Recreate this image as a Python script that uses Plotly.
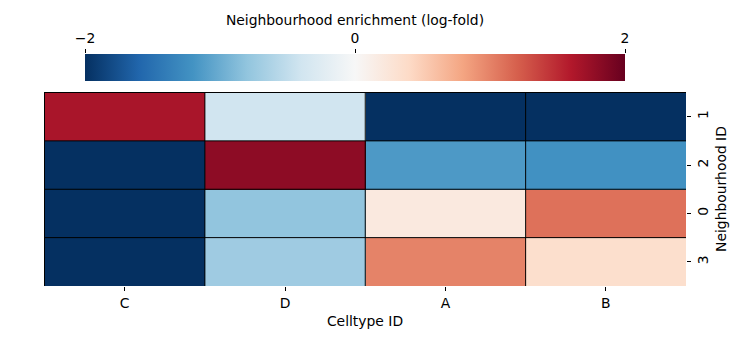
import plotly.graph_objects as go

celltypes = ["C", "D", "A", "B"]
neighbourhoods = ["1", "2", "0", "3"]
enrichment = [
    [1.65, -0.40, -2.50, -2.50],
    [-2.50, 1.80, -1.15, -1.22],
    [-2.50, -0.80, 0.20, 1.10],
    [-2.50, -0.72, 1.00, 0.35],
]
cbar_ticks = [-2, 0, 2]
cbar_ticktext = ["\u22122", "0", "2"]

rdbu_r = ["#053061", "#2166ac", "#4393c3", "#92c5de", "#d1e5f0", "#f7f7f7",
          "#fddbc7", "#f4a582", "#d6604d", "#b2182b", "#67001f"]
colorscale = [[i / (len(rdbu_r) - 1), c] for i, c in enumerate(rdbu_r)]

FONT = "DejaVu Sans"
FS = 13.9
W, H = 739, 339
L, R, T, B = 44, 53, 54, 53
plot_w = W - L - R
plot_h = H - T - B

# pixel layout (figure coords)
heat_top = 92
cb_left, cb_right, cb_top, cb_bottom = 85, 625, 54, 81

heat_dom = [0, (H - B - heat_top) / plot_h]
cb_ydom = [(H - B - cb_bottom) / plot_h, (H - B - cb_top) / plot_h]
cb_xdom = [(cb_left - L) / plot_w, (cb_right - L) / plot_w]

fig = go.Figure()
fig.add_trace(go.Heatmap(
    z=enrichment, x=celltypes, y=neighbourhoods,
    zmin=-2, zmax=2, colorscale=colorscale,
    colorbar=dict(
        orientation="h",
        x=(cb_xdom[0] + cb_xdom[1]) / 2, xanchor="center",
        y=cb_ydom[0], yanchor="bottom",
        len=cb_right - cb_left, lenmode="pixels",
        thickness=cb_bottom - cb_top, thicknessmode="pixels",
        xpad=0, ypad=0, outlinewidth=0,
        ticks="", showticklabels=False,
    ),
))
# axis carrying the colorbar ticks on top
fig.add_trace(go.Scatter(x=cbar_ticks, y=[0] * len(cbar_ticks), mode="markers",
                         marker=dict(opacity=0), xaxis="x2", yaxis="y2",
                         showlegend=False, hoverinfo="skip"))

shapes = []
for i in range(len(celltypes)):
    shapes.append(dict(type="line", xref="x", yref="y domain", x0=i - 0.5, x1=i - 0.5,
                       y0=0, y1=1, line=dict(color="black", width=1)))
for j in range(len(neighbourhoods)):
    shapes.append(dict(type="line", xref="x domain", yref="y", x0=0, x1=1,
                       y0=j - 0.5, y1=j - 0.5, line=dict(color="black", width=1)))

tfont = dict(family=FONT, size=FS, color="black")
fig.update_layout(
    width=W, height=H,
    margin=dict(l=L, r=R, t=T, b=B, autoexpand=False),
    paper_bgcolor="white", plot_bgcolor="white",
    font=tfont,
    shapes=shapes,
    xaxis=dict(domain=[0, 1], anchor="y",
               title=dict(text="Celltype ID", font=tfont, standoff=6),
               ticks="outside", ticklen=4, tickcolor="black", tickfont=tfont,
               showgrid=False, zeroline=False, showline=False, automargin=False),
    yaxis=dict(domain=heat_dom, anchor="x", side="right",
               title=dict(text="Neighbourhood ID", font=tfont, standoff=6),
               autorange="reversed", ticks="outside", ticklen=4, tickangle=-90,
               tickcolor="black", tickfont=tfont,
               showgrid=False, zeroline=False, showline=False, automargin=False),
    xaxis2=dict(domain=cb_xdom, anchor="y2", side="top", range=[-2, 2],
                title=dict(text="Neighbourhood enrichment (log-fold)", font=tfont, standoff=1),
                tickvals=cbar_ticks, ticktext=cbar_ticktext,
                ticks="outside", ticklen=4, tickcolor="black", tickfont=tfont,
                showgrid=False, zeroline=False, showline=False, automargin=False),
    yaxis2=dict(domain=cb_ydom, anchor="x2", visible=False, range=[-1, 1]),
)

fig.write_html("out.html")
